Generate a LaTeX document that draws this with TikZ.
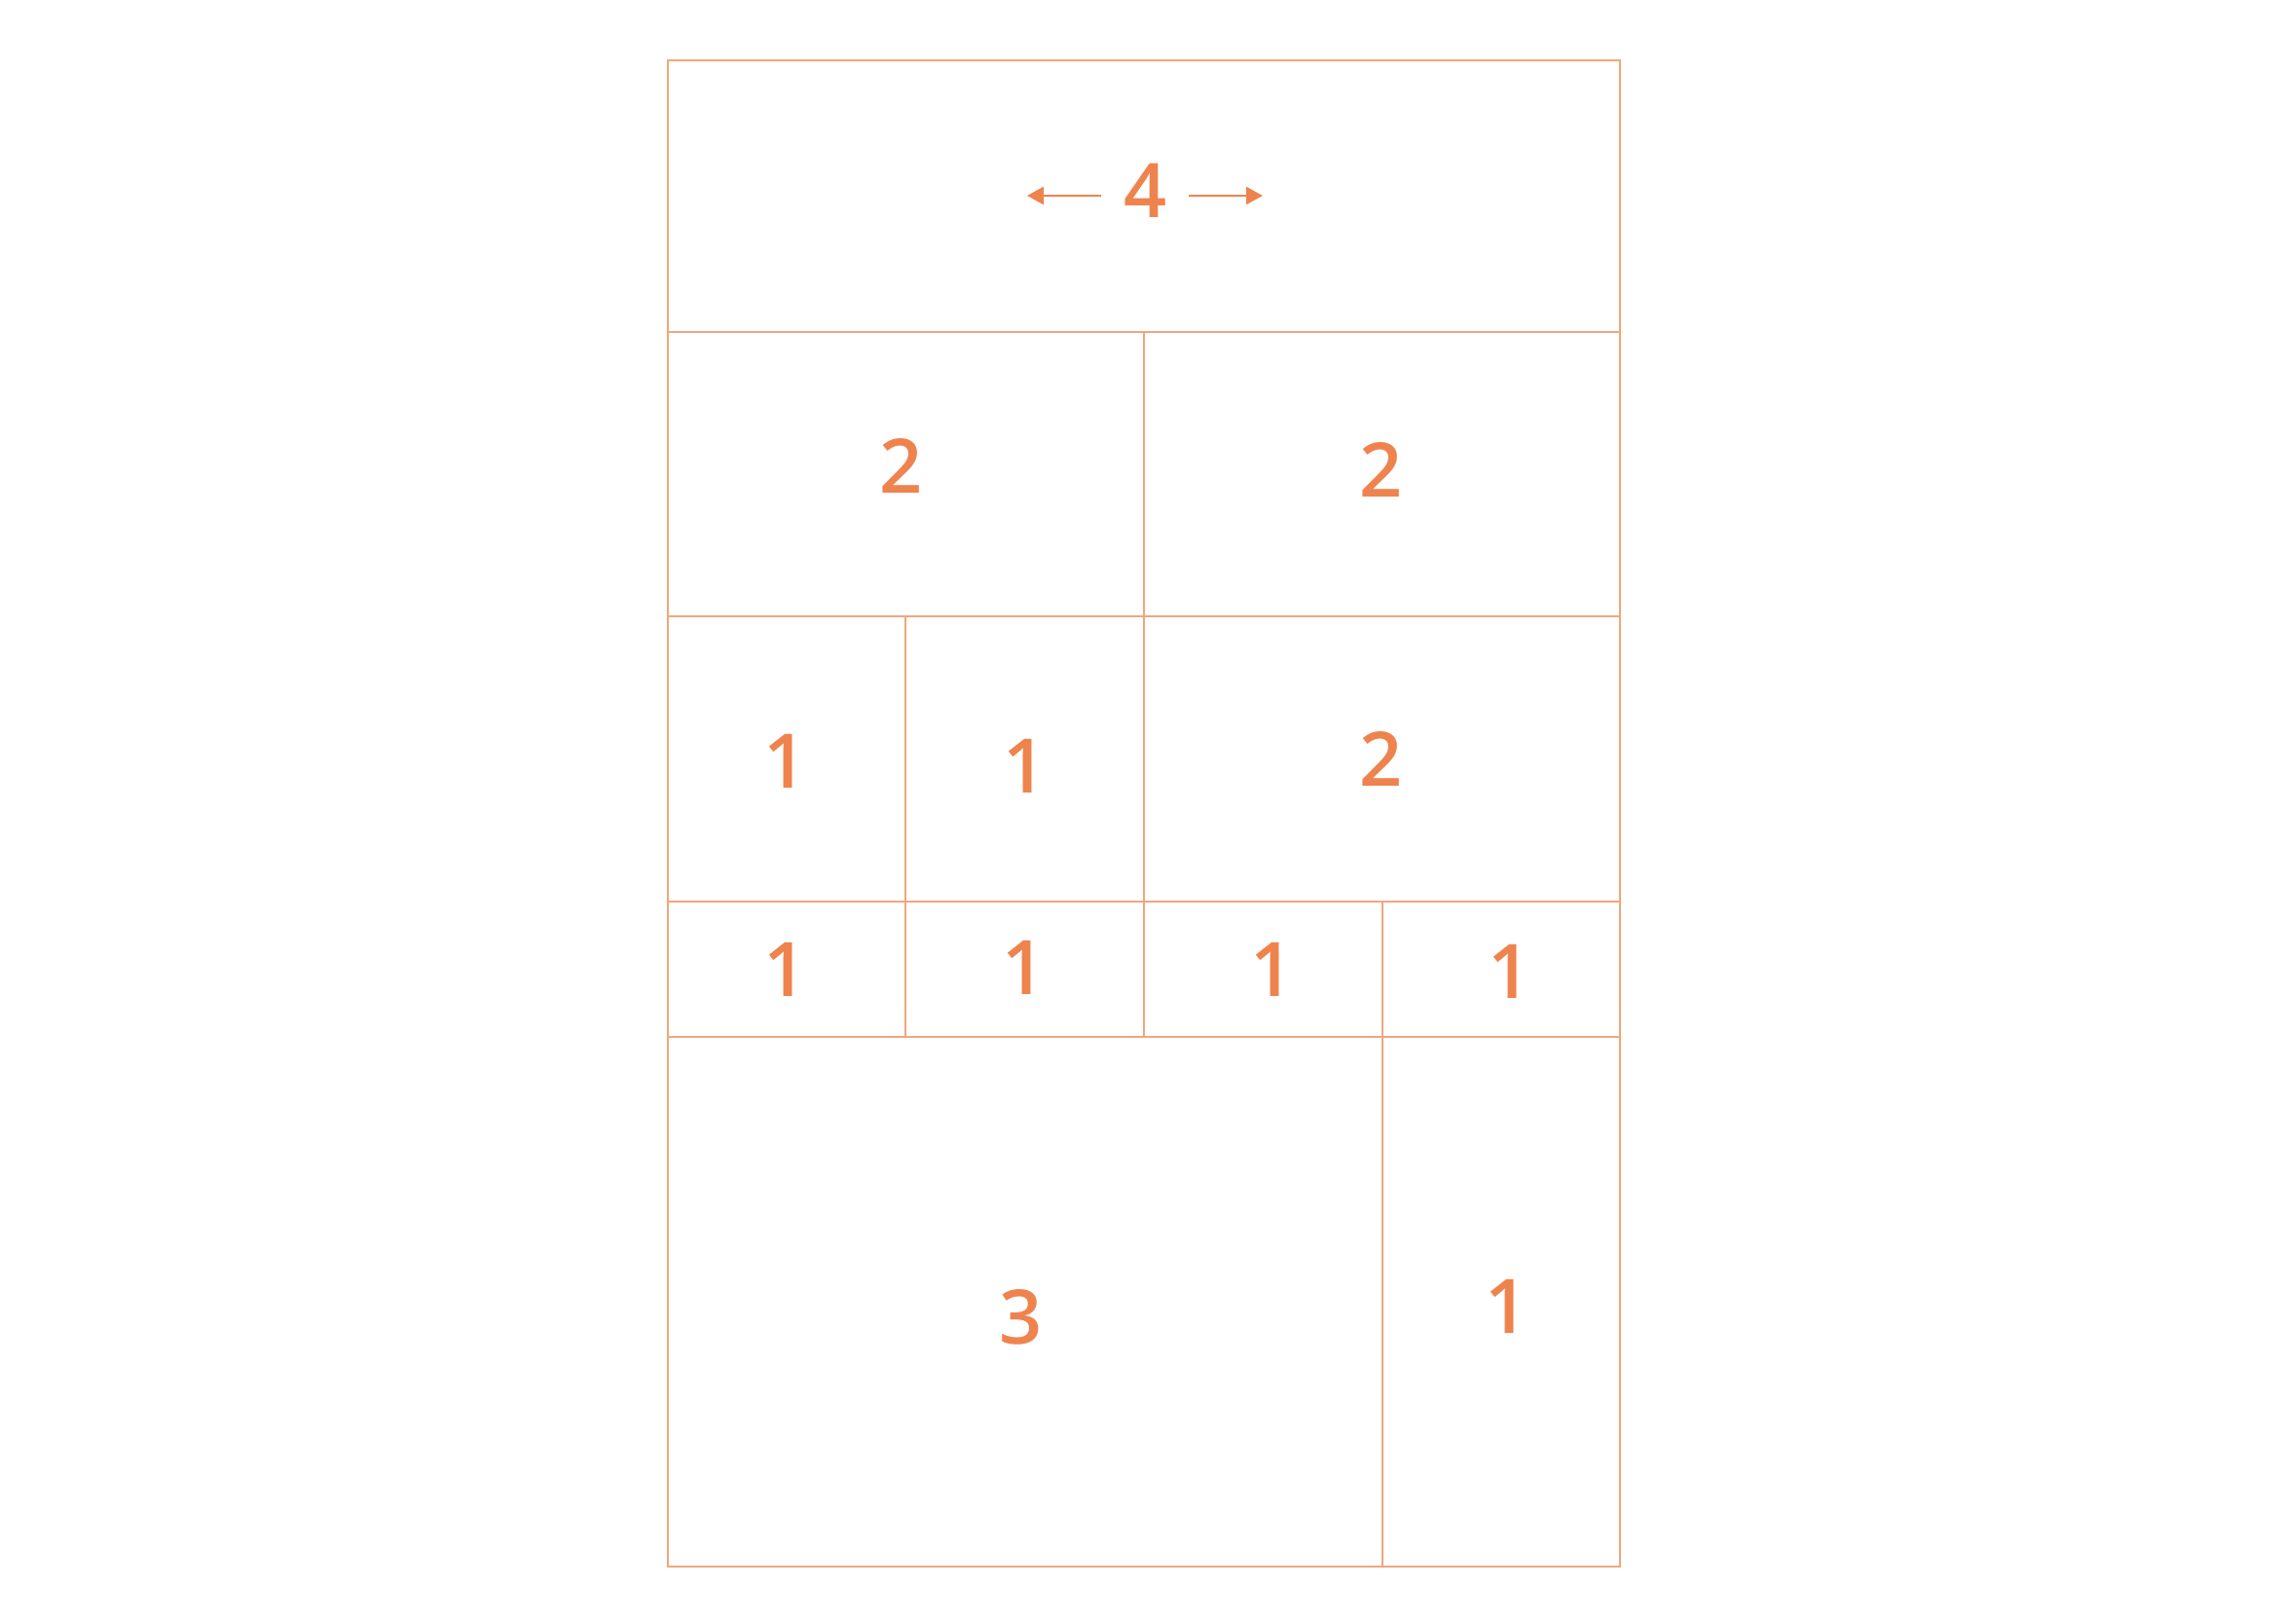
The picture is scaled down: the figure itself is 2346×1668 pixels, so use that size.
\documentclass[tikz,border=0pt]{standalone}
\usepackage{fontspec}
\setmainfont{Open Sans}
\IfFontExistsTF{Open Sans SemiBold}{\newfontfamily\numfont{Open Sans SemiBold}}{%
  \IfFontExistsTF{Open Sans Semibold}{\newfontfamily\numfont{Open Sans Semibold}}{%
    \newfontfamily\numfont{Open Sans}[FakeBold=1.2]}}
\usetikzlibrary{arrows.meta}
\definecolor{gridc}{RGB}{242,166,126}
\definecolor{numc}{RGB}{239,131,78}
\begin{document}
\begin{tikzpicture}[x=0.1mm,y=-0.1mm,
  num/.style={text=numc,font=\numfont\fontsize{22}{26}\selectfont,inner sep=0pt},
  gridline/.style={draw=gridc,line width=0.57pt},
  arr/.style={draw=numc,line width=0.7pt,-{Triangle[length=1.7mm,width=1.8mm]}}]
\useasboundingbox (0,0) rectangle (2346,1668);
% grid
\draw[gridline] (686,62) rectangle (1664,1609);
\draw[gridline] (686,341) -- (1664,341);
\draw[gridline] (686,633) -- (1664,633);
\draw[gridline] (686,926) -- (1664,926);
\draw[gridline] (686,1065) -- (1664,1065);
\draw[gridline] (1175,341) -- (1175,1065);
\draw[gridline] (930,633) -- (930,1065);
\draw[gridline] (1420,926) -- (1420,1609);
% numbers
\node[num] (n4) at (1177,196) {4};
\node[num] (n2a) at (926,479) {2};
\node[num] (n2b) at (1419,483) {2};
\node[num] (n1a) at (807,782) {1};
\node[num] (n1b) at (1053,787) {1};
\node[num] (n2c) at (1419,780) {2};
\node[num] (n1c) at (807,996) {1};
\node[num] (n1d) at (1052,994) {1};
\node[num] (n1e) at (1307,996) {1};
\node[num] (n1f) at (1551,998) {1};
\node[num] (n3) at (1049,1353) {3};
\node[num] (n1g) at (1548,1342) {1};
% arrows
\coordinate (ls) at (1131,201);
\coordinate (lt) at (1055,201);
\coordinate (rs) at (1221,201);
\coordinate (rt) at (1297,201);
\draw[arr] (ls) -- (lt);
\draw[arr] (rs) -- (rt);
\end{tikzpicture}
\end{document}
